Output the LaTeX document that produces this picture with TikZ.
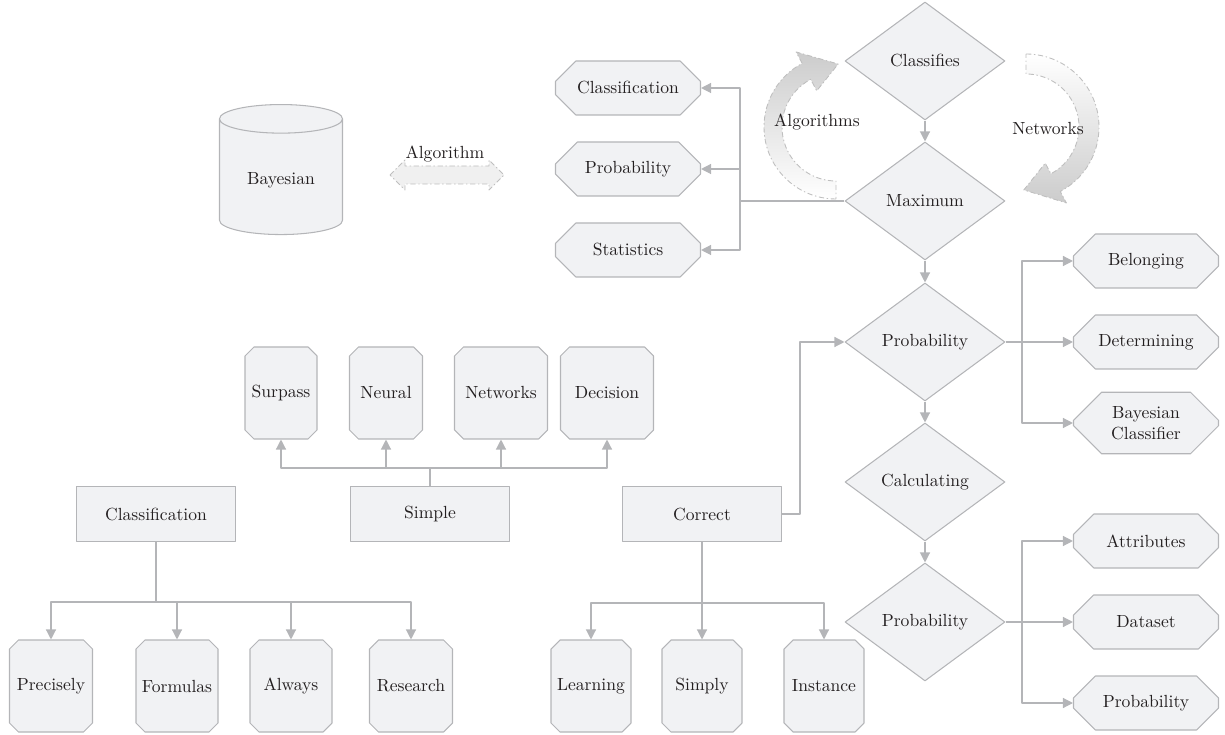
\documentclass[tikz,border=0pt]{standalone}
\usetikzlibrary{shapes.geometric, shapes.misc, arrows.meta, calc}
\definecolor{boxfill}{HTML}{F1F2F4}
\definecolor{boxline}{HTML}{B4B5B8}
\definecolor{txt}{HTML}{231F20}

\begin{document}
\begin{tikzpicture}[>={Triangle[length=0.2cm,width=0.2cm]}, line join=round,
	base/.style={draw=boxline, fill=boxfill, text=txt, line width=0.6pt},
	dec/.style={base, diamond, minimum width=3.2cm, minimum height=2.36cm, inner sep=0pt},
	oct/.style={base, chamfered rectangle, chamfered rectangle xsep=0.28cm, chamfered rectangle ysep=0.28cm,
		minimum width=2.9cm, minimum height=1.08cm, inner sep=0pt, align=center},
	tall/.style={base, chamfered rectangle, chamfered rectangle xsep=0.09cm, chamfered rectangle ysep=0.09cm,
		minimum height=1.84cm, inner sep=0pt},
	blk/.style={base, rectangle, minimum width=3.18cm, minimum height=1.1cm},
	link/.style={draw=boxline, line width=0.7pt},
	conn/.style={link, ->},
	ribbon/.style={draw=gray!50, line width=0.5pt, dash pattern=on 3pt off 1.5pt on 0.8pt off 1.5pt},
	lbl/.style={text=txt}]
	
	\useasboundingbox (0,0) rectangle (24.5,-14.7);
	
	% ===============================
	% ========== TOP ROW ============
	% ===============================
	
	% ---- Bayesian store and the algorithm link ----
	\node[base, cylinder, shape border rotate=90, aspect=0.36,
	minimum width=2.46cm, minimum height=2.6cm] (bayes) at (5.62,-3.60) {Bayesian};
	
	\coordinate (alg) at (8.94,-3.5);
	\path[ribbon, fill=gray!12]
	($(alg)+(-1.14,0)$) -- ++(0.3,0.3) -- ++(0,-0.12) -- ++(1.68,0) -- ++(0,0.12)
	-- ($(alg)+(1.14,0)$) -- ++(-0.3,-0.3) -- ++(0,0.12) -- ++(-1.68,0) -- ++(0,-0.12) -- cycle;
	\node[lbl] (algtxt) at (8.9,-3.08) {Algorithm};
	
	% ---- left column of outcomes ----
	\node[oct] (cls) at (12.56,-1.76) {Classification};
	\node[oct] (prob) at (12.56,-3.38) {Probability};
	\node[oct] (stat) at (12.56,-5.00) {Statistics};
	
	% ---- main decision chain ----
	\node[dec] (classifies) at (18.5,-1.22) {Classifies};
	\node[dec] (maximum) at (18.5,-4.02) {Maximum};
	\node[dec] (probA) at (18.5,-6.84) {Probability};
	\node[dec] (calcul) at (18.5,-9.64) {Calculating};
	\node[dec] (probB) at (18.5,-12.44) {Probability};
	
	\draw[conn] (classifies) -- (maximum);
	\draw[conn] (maximum) -- (probA);
	\draw[conn] (probA) -- (calcul);
	\draw[conn] (calcul) -- (probB);
	
	% bus from Maximum to the left column
	\coordinate (busL) at (14.8,-4.02);
	\draw[link] (maximum.west) -- (busL);
	\foreach \n in {cls,prob,stat}
	\draw[conn] (busL) |- (\n.east);
	
	% curved arrows beside the chain
	\coordinate (cL) at (16.72,-2.54);
	\shade[top color=gray!40, bottom color=white]
	($(cL)+(270:1.44)$) arc[start angle=270, end angle=118, radius=1.44]
	-- ($(cL)+(118:1.70)$) -- ($(cL)+(88:1.26)$) -- ($(cL)+(118:0.82)$)
	-- ($(cL)+(118:1.08)$) arc[start angle=118, end angle=270, radius=1.08] -- cycle;
	\draw[ribbon]
	($(cL)+(270:1.44)$) arc[start angle=270, end angle=118, radius=1.44]
	-- ($(cL)+(118:1.70)$) -- ($(cL)+(88:1.26)$) -- ($(cL)+(118:0.82)$)
	-- ($(cL)+(118:1.08)$) arc[start angle=118, end angle=270, radius=1.08] -- cycle;
	\node[lbl] (lblalg) at (16.34,-2.44) {Algorithms};
	
	\coordinate (cR) at (20.52,-2.54);
	\shade[top color=white, bottom color=gray!40]
	($(cR)+(90:1.46)$) arc[start angle=90, end angle=-62, radius=1.46]
	-- ($(cR)+(-62:1.72)$) -- ($(cR)+(-92:1.26)$) -- ($(cR)+(-62:0.82)$)
	-- ($(cR)+(-62:1.06)$) arc[start angle=-62, end angle=90, radius=1.06] -- cycle;
	\draw[ribbon]
	($(cR)+(90:1.46)$) arc[start angle=90, end angle=-62, radius=1.46]
	-- ($(cR)+(-62:1.72)$) -- ($(cR)+(-92:1.26)$) -- ($(cR)+(-62:0.82)$)
	-- ($(cR)+(-62:1.06)$) arc[start angle=-62, end angle=90, radius=1.06] -- cycle;
	\node[lbl] (lblnet) at (20.96,-2.58) {Networks};
	
	% ---- right column of outcomes ----
	\node[oct] (belong) at (22.92,-5.22) {Belonging};
	\node[oct] (determ) at (22.92,-6.84) {Determining};
	\node[oct] (bclass) at (22.92,-8.46) {Bayesian\\Classifier};
	\node[oct] (attr) at (22.92,-10.82) {Attributes};
	\node[oct] (dset) at (22.92,-12.44) {Dataset};
	\node[oct] (probC) at (22.92,-14.06) {Probability};
	
	\coordinate (busA) at (20.44,-6.84);
	\draw[link] (probA.east) -- (busA);
	\foreach \n in {belong,determ,bclass}
	\draw[conn] (busA) |- (\n.west);
	
	\coordinate (busB) at (20.44,-12.44);
	\draw[link] (probB.east) -- (busB);
	\foreach \n in {attr,dset,probC}
	\draw[conn] (busB) |- (\n.west);
	
	% ===============================
	% ======== BOTTOM ROW ===========
	% ===============================
	
	% ---- Simple and its four children ----
	\node[blk] (simple) at (8.6,-10.28) {Simple};
	\node[tall, minimum width=1.44cm] (surpass) at (5.62,-7.86) {Surpass};
	\node[tall, minimum width=1.46cm] (neural) at (7.72,-7.86) {Neural};
	\node[tall, minimum width=1.86cm] (netw) at (10.02,-7.86) {Networks};
	\node[tall, minimum width=1.86cm] (decision) at (12.14,-7.86) {Decision};
	
	\coordinate (busS) at (8.6,-9.36);
	\draw[link] (simple.north) -- (busS);
	\foreach \n in {surpass,neural,netw,decision}
	\draw[conn] (busS) -| (\n.south);
	
	% ---- Classification and its four children ----
	\node[blk] (clsB) at (3.12,-10.28) {Classification};
	\node[tall, minimum width=1.66cm] (precisely) at (1.02,-13.72) {Precisely};
	\node[tall, minimum width=1.64cm] (formulas) at (3.54,-13.72) {Formulas};
	\node[tall, minimum width=1.64cm] (always) at (5.82,-13.72) {Always};
	\node[tall, minimum width=1.66cm] (research) at (8.22,-13.72) {Research};
	
	\coordinate (busC) at (3.12,-12.04);
	\draw[link] (clsB.south) -- (busC);
	\foreach \n in {precisely,formulas,always,research}
	\draw[conn] (busC) -| (\n.north);
	
	% ---- Correct, its children and the link up to Probability ----
	\node[blk] (correct) at (14.04,-10.28) {Correct};
	\node[tall, minimum width=1.6cm] (learning) at (11.82,-13.72) {Learning};
	\node[tall, minimum width=1.6cm] (simply) at (14.04,-13.72) {Simply};
	\node[tall, minimum width=1.6cm] (instance) at (16.48,-13.72) {Instance};
	
	\coordinate (busR) at (14.04,-12.06);
	\draw[link] (correct.south) -- (busR);
	\foreach \n in {learning,simply,instance}
	\draw[conn] (busR) -| (\n.north);
	
	\coordinate (jog) at (16.0,-10.28);
	\draw[conn] (correct.east) -- (jog) |- (probA.west);
	
\end{tikzpicture}
\end{document}
